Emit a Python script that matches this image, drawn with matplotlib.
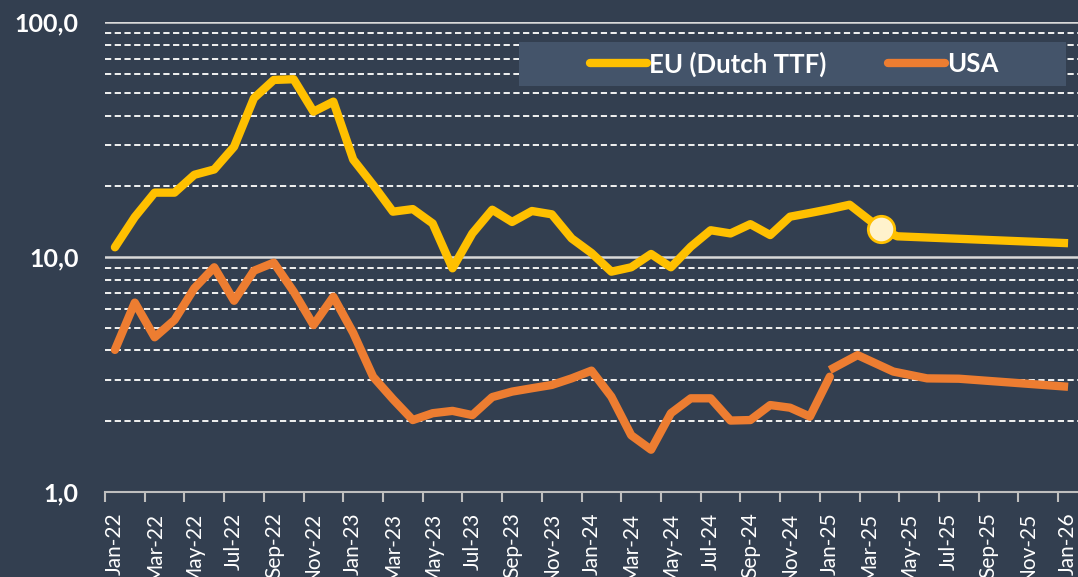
import matplotlib
matplotlib.use("Agg")
import matplotlib.pyplot as plt
from matplotlib.patches import Rectangle
from matplotlib.ticker import FixedLocator, LogLocator, NullFormatter
import numpy as np
import pandas as pd

# --- data (monthly, index 0 = Jan-22) -------------------------------------
month_labels = pd.date_range("2022-01-01", "2026-01-01", freq="MS").strftime("%b-%y").tolist()

eu_hist = [11.0, 14.8, 18.8, 18.8, 22.4, 23.6, 29.5, 47.5, 56.8, 57.2, 41.6, 45.9,
           26.0, 20.3, 15.6, 16.0, 13.9, 8.95, 12.6, 15.9, 14.1, 15.7, 15.2, 12.0,
           10.4, 8.66, 9.04, 10.3, 9.04, 11.06, 13.0, 12.6, 13.8, 12.4, 14.85, 15.4,
           16.0, 16.7]
eu_spot_x = 38.6
eu_spot = 13.1
eu_fwd_x = [38.6, 39.4, 48.0]
eu_fwd = [13.1, 12.25, 11.45]

usa_hist = [4.02, 6.39, 4.55, 5.39, 7.36, 9.04, 6.51, 8.74, 9.46, 7.12, 5.13, 6.77,
            4.75, 3.09, 2.48, 2.02, 2.16, 2.21, 2.12, 2.53, 2.67, 2.76, 2.85, 3.04,
            3.28, 2.54, 1.74, 1.51, 2.16, 2.50, 2.50, 2.01, 2.02, 2.34, 2.28, 2.09,
            3.09]
usa_fwd_x = [36.0, 37.4, 39.2, 40.9, 42.5, 48.0]
usa_fwd = [3.30, 3.82, 3.25, 3.04, 3.03, 2.80]

y_ticks = [1, 10, 100]
y_labels = ["1,0", "10,0", "100,0"]

# --- style -----------------------------------------------------------------
BG = "#333F50"
BOX = "#44546A"
EU_COL = "#FFC000"
USA_COL = "#ED7D31"
FONT = "Lato"

plt.rcParams["font.family"] = [FONT, "DejaVu Sans"]

fig = plt.figure(figsize=(10.78, 5.77), dpi=100, facecolor=BG)
ax = fig.add_axes([0.0974, 0.1478, 0.9026, 0.8136], facecolor=BG)

ax.set_yscale("log")
ax.set_ylim(1, 100)
ax.set_xlim(-0.5, 48.5)

# gridlines
ax.set_axisbelow(True)
ax.yaxis.set_major_locator(FixedLocator(y_ticks))
ax.yaxis.set_minor_locator(LogLocator(base=10, subs=np.arange(2, 10)))
ax.yaxis.set_minor_formatter(NullFormatter())
ax.set_yticklabels(y_labels)
ax.yaxis.grid(True, which="major", color="#D9D9D9", lw=1.8, ls="-")
ax.yaxis.grid(True, which="minor", color="#F2F2F2", lw=1.4, ls=(0, (3.2, 1.8)))
ax.tick_params(axis="y", which="both", length=0, pad=19, colors="white",
               labelsize=18)
for t in ax.get_yticklabels():
    t.set_fontweight("bold")

# x axis: labels at month centres, tick marks at boundaries
ax.set_xticks(np.arange(0, 49, 2))
ax.set_xticklabels(month_labels[::2], rotation=90)
ax.xaxis.set_minor_locator(FixedLocator(np.arange(-0.5, 48, 2)))
ax.tick_params(axis="x", which="major", length=0, pad=15, colors="white",
               labelsize=15)
ax.tick_params(axis="x", which="minor", length=7, width=1.5, color="#BFBFBF")

for s in ["top", "left", "right"]:
    ax.spines[s].set_visible(False)
ax.spines["bottom"].set_color("#BFBFBF")
ax.spines["bottom"].set_linewidth(1.5)

# --- series ----------------------------------------------------------------
lw = 6.0
ax.plot(list(range(len(usa_hist))), usa_hist, color=USA_COL, lw=lw,
        solid_joinstyle="round", solid_capstyle="round", zorder=3)
ax.plot(usa_fwd_x, usa_fwd, color=USA_COL, lw=lw,
        solid_joinstyle="round", solid_capstyle="butt", zorder=3)

eu_x = list(range(len(eu_hist))) + [eu_spot_x]
ax.plot(eu_x, eu_hist + [eu_spot], color=EU_COL, lw=lw,
        solid_joinstyle="round", solid_capstyle="round", zorder=4)
ax.plot(eu_fwd_x, eu_fwd, color=EU_COL, lw=lw,
        solid_joinstyle="round", solid_capstyle="butt", zorder=4)
ax.plot([eu_spot_x], [eu_spot], marker="o", ms=19, mfc="#FFF2CC", mec=EU_COL,
        mew=2, ls="none", zorder=5)

# --- legend ----------------------------------------------------------------
box = Rectangle((0.4814, 0.8504), 0.5074, 0.0773, transform=fig.transFigure,
                facecolor=BOX, edgecolor="none", zorder=2, clip_on=False)
ax.add_patch(box)

handles = [plt.Line2D([], [], color=EU_COL, lw=lw, solid_capstyle="round"),
           plt.Line2D([], [], color=USA_COL, lw=lw, solid_capstyle="round")]
leg = fig.legend(handles, ["EU (Dutch TTF)", "USA"], ncol=2, frameon=False,
                 loc="center", bbox_to_anchor=(0.737, 0.8891),
                 handlelength=2.2, handletextpad=0.1, columnspacing=2.4,
                 prop={"family": FONT, "weight": "bold", "size": 18.5})
for t in leg.get_texts():
    t.set_color("white")

fig.savefig("out.png", dpi=100, facecolor=BG)
